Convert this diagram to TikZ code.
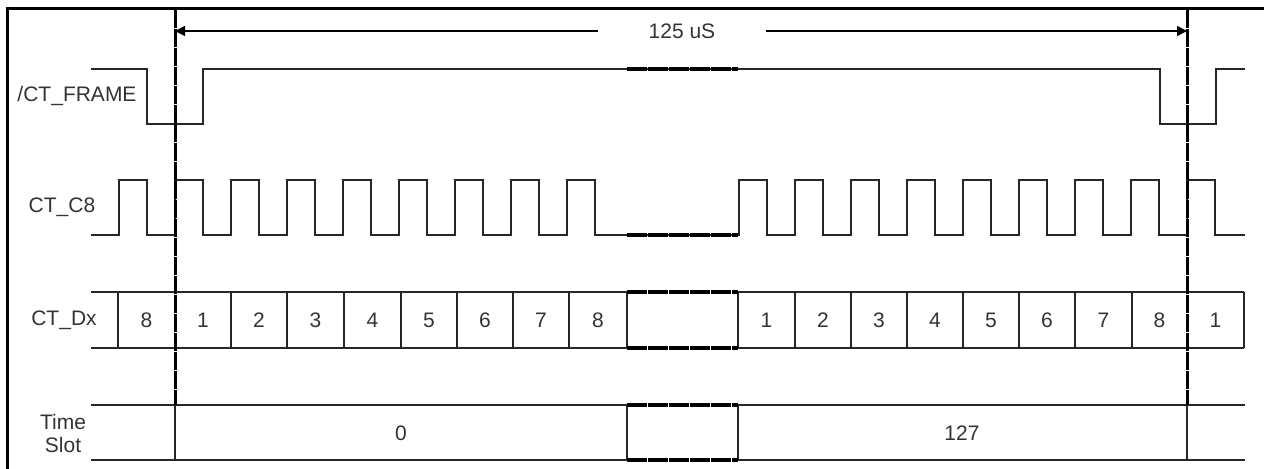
\documentclass[tikz,border=0pt]{standalone}
\usepackage{fontspec}
\setmainfont{Liberation Sans}
\usetikzlibrary{arrows.meta}
\tikzset{
    sig/.style = {draw=black!85, line width=0.9pt},
    brk/.style = {draw=black, line width=1.8pt, dash pattern=on 10pt off 0.5pt},
    cut/.style = {draw=black, line width=1.5pt, dash pattern=on 9pt off 0.5pt},
    dimarrow/.style = {draw=black, line width=0.8pt, -{Triangle[length=5pt,width=5pt]}},
    lbl/.style = {font=\fontsize{10.5pt}{11.5pt}\selectfont, text=black!80, inner sep=0pt, align=center},
}

\begin{document}
\begin{tikzpicture}[x=0.5pt,y=-0.5pt]
\useasboundingbox (0,0) rectangle (1264,469);
\draw[line width=1.5pt] (7,469) -- (7,9) -- (1264,9);

% frame period
\coordinate (start) at (175,31);
\coordinate (stop) at (1187,31);
\node[lbl, inner xsep=25pt] (period) at (682,31) {125 uS};
\draw[dimarrow] (period) -- (start);
\draw[dimarrow] (period) -- (stop);

% signal names
\node[lbl] (frame) at (77,96) {/CT\_FRAME};
\node[lbl] (clock) at (62,207) {CT\_C8};
\node[lbl] (data) at (64,320) {CT\_Dx};
\node[lbl] (slot) at (63,433) {Time\\Slot};

% /CT_FRAME
\draw[sig] (91,69) -- (147,69) -- (147,124) -- (203,124) -- (203,69) -- (1160,69)
    -- (1160,124) -- (1216,124) -- (1216,69) -- (1245,69);
\draw[brk] (627,69) -- (738,69);

% CT_C8
\draw[sig] (91,235)
    foreach \s in {119,175,...,567} { -- (\s,235) -- (\s,180) -- (\s+28,180) -- (\s+28,235) }
    -- (739,235)
    foreach \s in {739,795,...,1187} { -- (\s,235) -- (\s,180) -- (\s+28,180) -- (\s+28,235) }
    -- (1245,235);
\draw[brk] (627,235) -- (738,235);

% CT_Dx
\draw[sig] (91,292) -- (627,292) (738,292) -- (1244,292);
\draw[sig] (91,348) -- (627,348) (738,348) -- (1244,348);
\foreach \x in {118,231,287,344,401,457,513,569,795,851,907,963,1019,1075,1132,1244}
    \draw[sig] (\x,292) -- (\x,348);
\draw[sig, line width=1.1pt] (627,292) -- (627,348) (738,292) -- (738,348);
\draw[brk] (627,292) -- (738,292) (627,348) -- (738,348);
\foreach \x/\t [count=\i] in {146.5/8, 203/1, 259/2, 315.5/3, 372.5/4, 429/5, 485/6, 541/7, 598/8,
    766.5/1, 823/2, 879/3, 935/4, 991/5, 1047/6, 1103.5/7, 1159.5/8, 1215.5/1}
    \node[lbl] (dx\i) at (\x,320) {\t};

% time slot
\draw[sig] (91,405) -- (627,405) (738,405) -- (1245,405);
\draw[sig] (91,460) -- (627,460) (738,460) -- (1245,460);
\draw[sig] (175,405) -- (175,460) (1187,405) -- (1187,460);
\draw[sig, line width=1.1pt] (627,405) -- (627,460) (738,405) -- (738,460);
\draw[brk] (627,405) -- (738,405) (627,460) -- (738,460);
\node[lbl] (ts0) at (401,433) {0};
\node[lbl] (ts127) at (962,433) {127};

% frame boundaries
\coordinate (cutA top) at (175,10);
\coordinate (cutA bot) at (175,405);
\coordinate (cutB top) at (1187,10);
\coordinate (cutB bot) at (1187,405);
\draw[cut] (cutA top) -- (cutA bot);
\draw[cut] (cutB top) -- (cutB bot);
\end{tikzpicture}
\end{document}
